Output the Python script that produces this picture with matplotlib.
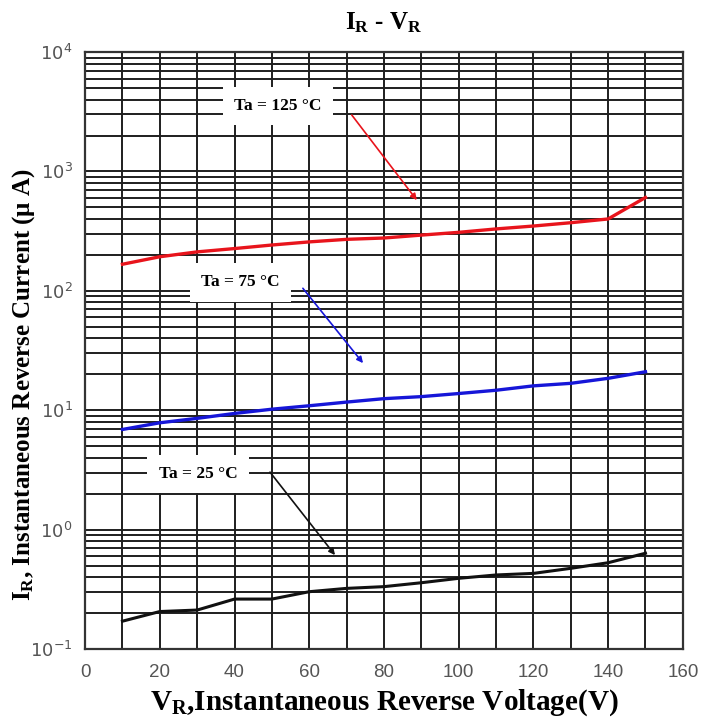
import numpy as np
import matplotlib.pyplot as plt
from matplotlib.ticker import FixedLocator, NullFormatter

# ----------------------------
# data
# ----------------------------
vr = [10, 20, 30, 40, 50, 60, 70, 80, 90, 100, 110, 120, 130, 140, 150]
ir_125 = [167, 193, 212, 226, 242, 257, 270, 277, 293, 309, 330, 349, 372, 400, 605]
ir_75 = [6.9, 7.85, 8.55, 9.4, 10.2, 10.9, 11.7, 12.5, 13.0, 13.8, 14.7, 16.0, 16.8, 18.5, 21.0]
ir_25 = [0.171, 0.206, 0.212, 0.262, 0.262, 0.302, 0.322, 0.333, 0.359, 0.391, 0.417, 0.430, 0.474, 0.528, 0.634]

x_ticks = [0, 20, 40, 60, 80, 100, 120, 140, 160]
y_ticks = [0.1, 1, 10, 100, 1000, 10000]
y_tick_labels = ["$10^{-1}$", "$10^{0}$", "$10^{1}$", "$10^{2}$", "$10^{3}$", "$10^{4}$"]

labels = ["Ta = 125 °C", "Ta = 75 °C", "Ta = 25 °C"]
label_pos = [(51.6, 3530), (41.5, 118), (30.2, 2.93)]
arrow_from = [(71.4, 2965), (58.3, 105), (49.5, 3.03)]
arrow_to = [(88.8, 575), (74.4, 24.8), (66.9, 0.612)]
colors = ["#e8141c", "#1616d8", "#111111"]

plt.rcParams["mathtext.fontset"] = "custom"
plt.rcParams["mathtext.rm"] = "Liberation Sans Narrow"
plt.rcParams["mathtext.bf"] = "Liberation Serif:bold"

serif = ["Liberation Serif", "DejaVu Serif"]
narrow = ["Liberation Sans Narrow", "Liberation Sans", "DejaVu Sans"]

fig = plt.figure(figsize=(7.15, 7.28), dpi=100)
ax = fig.add_axes([0.119, 0.1085, 0.836, 0.82])

ax.set_yscale("log")
ax.set_xlim(0, 160)
ax.set_ylim(0.1, 10000)

# grid: every 10 V and every 1..9 x 10^k
grid_kw = dict(color="#1e1e1e", lw=1.4, zorder=1)
for xv in range(10, 160, 10):
    ax.axvline(xv, **grid_kw)
for k in range(-1, 4):
    for m in range(1, 10):
        yv = m * 10.0 ** k
        if 0.1 < yv < 10000:
            ax.axhline(yv, **grid_kw)

ax.plot(vr, ir_125, color=colors[0], lw=2.4, zorder=3)
ax.plot(vr, ir_75, color=colors[1], lw=2.4, zorder=3)
ax.plot(vr, ir_25, color=colors[2], lw=2.2, zorder=3)

for txt, pos, a0, a1, c in zip(labels, label_pos, arrow_from, arrow_to, colors):
    ax.text(pos[0], pos[1], txt, ha="center", va="center", fontsize=12.5,
            fontweight="bold", family=serif, zorder=4,
            bbox=dict(boxstyle="square,pad=0.65", fc="white", ec="none"))
    ax.annotate("", xy=a1, xytext=a0, zorder=4,
                arrowprops=dict(arrowstyle="-|>", color=c, lw=1.2,
                                mutation_scale=9, shrinkA=0, shrinkB=0))

ax.xaxis.set_major_locator(FixedLocator(x_ticks))
ax.set_xticklabels([str(t) for t in x_ticks], family=narrow, fontsize=13.5, color="#555555")
ax.yaxis.set_major_locator(FixedLocator(y_ticks))
ax.yaxis.set_minor_formatter(NullFormatter())
ax.set_yticks([], minor=True)
ax.set_yticklabels(y_tick_labels, fontsize=13, color="#555555")
ax.tick_params(axis="both", length=0)
ax.tick_params(axis="x", pad=11)
ax.tick_params(axis="y", pad=9)

for s in ax.spines.values():
    s.set_color("#333333")
    s.set_linewidth(1.6)

ax.set_xlabel("$\\mathbf{V_R}$,Instantaneous Reverse Voltage(V)", family=serif,
              fontweight="bold", fontsize=21, labelpad=4)
ax.set_ylabel("$\\mathbf{I_R}$, Instantaneous Reverse Current (μ A)", family=serif,
              fontweight="bold", fontsize=18, va="center")
ax.yaxis.set_label_coords(-0.103, 0.443)
ax.set_title("$\\mathbf{I_R}$ - $\\mathbf{V_R}$", family=serif, fontweight="bold",
             fontsize=18, pad=16)

fig.savefig("out.png", dpi=100, facecolor="white")
